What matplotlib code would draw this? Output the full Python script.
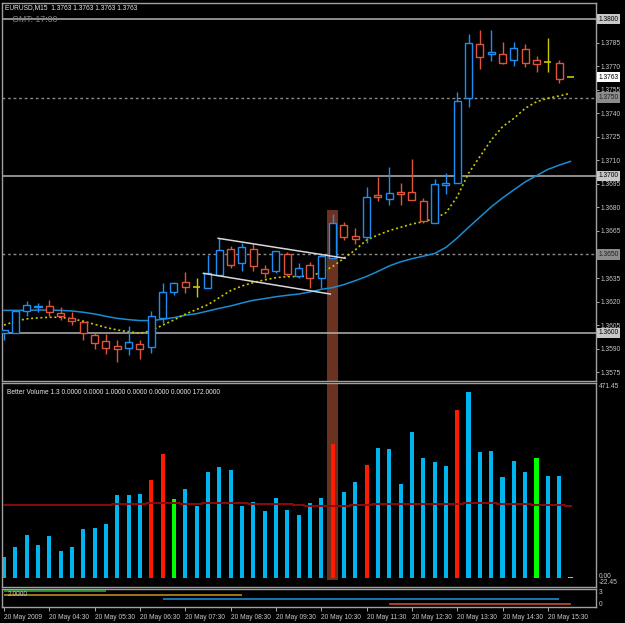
import matplotlib
matplotlib.use("Agg")
import matplotlib.pyplot as plt
from matplotlib.patches import Rectangle
import numpy as np

# ---------------- data ----------------
opens = [1.36000, 1.36002, 1.36138, 1.36163, 1.36170, 1.36125, 1.36096, 1.36070, 1.35987, 1.35949,
         1.35919, 1.35907, 1.35930, 1.35909, 1.36093, 1.36263, 1.36325, 1.36291, 1.36289, 1.36369,
         1.36537, 1.36444, 1.36535, 1.36406, 1.36393, 1.36505, 1.36365, 1.36431, 1.36350, 1.36476,
         1.36686, 1.36616, 1.36609, 1.36879, 1.36856, 1.36896, 1.36896, 1.36839, 1.36699, 1.36945,
         1.36953, 1.37495, 1.37839, 1.37775, 1.37775, 1.37737, 1.37807, 1.37737, 1.37724, 1.37718,
         1.37630]
highs = [1.36021, 1.36148, 1.36204, 1.36189, 1.36210, 1.36166, 1.36136, 1.36070, 1.35998, 1.35994,
         1.35955, 1.36045, 1.35955, 1.36138, 1.36316, 1.36327, 1.36389, 1.36348, 1.36495, 1.36603,
         1.36554, 1.36575, 1.36567, 1.36433, 1.36524, 1.36514, 1.36448, 1.36454, 1.36503, 1.36760,
         1.36709, 1.36667, 1.36928, 1.36992, 1.37059, 1.36953, 1.37108, 1.36858, 1.36979, 1.37017,
         1.37537, 1.37904, 1.37930, 1.37930, 1.37851, 1.37856, 1.37841, 1.37764, 1.37877, 1.37739,
         1.37630]
lows = [1.35955, 1.36000, 1.36108, 1.36136, 1.36108, 1.36083, 1.36051, 1.35955, 1.35896, 1.35866,
        1.35817, 1.35860, 1.35837, 1.35875, 1.36062, 1.36242, 1.36257, 1.36227, 1.36289, 1.36369,
        1.36416, 1.36395, 1.36395, 1.36352, 1.36384, 1.36365, 1.36348, 1.36285, 1.36285, 1.36476,
        1.36592, 1.36567, 1.36575, 1.36843, 1.36813, 1.36813, 1.36845, 1.36703, 1.36699, 1.36885,
        1.36953, 1.37442, 1.37682, 1.37735, 1.37713, 1.37703, 1.37696, 1.37665, 1.37665, 1.37590,
        1.37630]
closes = [1.36019, 1.36142, 1.36176, 1.36174, 1.36134, 1.36106, 1.36076, 1.35998, 1.35938, 1.35907,
          1.35898, 1.35941, 1.35896, 1.36108, 1.36259, 1.36316, 1.36291, 1.36291, 1.36380, 1.36527,
          1.36435, 1.36546, 1.36429, 1.36384, 1.36520, 1.36378, 1.36416, 1.36348, 1.36490, 1.36699,
          1.36609, 1.36597, 1.36864, 1.36864, 1.36890, 1.36885, 1.36845, 1.36713, 1.36947, 1.36953,
          1.37478, 1.37845, 1.37756, 1.37788, 1.37722, 1.37813, 1.37722, 1.37713, 1.37724, 1.37620,
          1.37630]

fast_ma = [1.36050, 1.36075, 1.36090, 1.36096, 1.36100, 1.36100, 1.36090, 1.36075, 1.36055, 1.36035,
           1.36019, 1.36008, 1.35998, 1.36015, 1.36050, 1.36083, 1.36120, 1.36150, 1.36180, 1.36225,
           1.36270, 1.36299, 1.36321, 1.36338, 1.36352, 1.36359, 1.36359, 1.36363, 1.36386, 1.36423,
           1.36476, 1.36529, 1.36592, 1.36624, 1.36652, 1.36673, 1.36694, 1.36709, 1.36728, 1.36766,
           1.36868, 1.37017, 1.37123, 1.37229, 1.37314, 1.37367, 1.37431, 1.37473, 1.37495, 1.37510,
           1.37527]
slow_ma = [1.36144, 1.36144, 1.36144, 1.36146, 1.36146, 1.36144, 1.36140, 1.36132, 1.36121, 1.36106,
           1.36093, 1.36085, 1.36079, 1.36079, 1.36087, 1.36098, 1.36113, 1.36123, 1.36140, 1.36157,
           1.36172, 1.36191, 1.36208, 1.36219, 1.36231, 1.36240, 1.36248, 1.36261, 1.36278, 1.36289,
           1.36308, 1.36333, 1.36360, 1.36392, 1.36427, 1.36453, 1.36473, 1.36489, 1.36506, 1.36545,
           1.36605, 1.36673, 1.36738, 1.36803, 1.36860, 1.36912, 1.36962, 1.37002, 1.37042, 1.37069,
           1.37093]

volumes = [51, 74, 104, 79, 101, 65, 74, 117, 120, 130, 200, 200, 203, 237, 300, 190, 216, 174, 257, 268,
           261, 174, 184, 161, 192, 163, 152, 182, 194, 324, 207, 232, 274, 314, 312, 228, 353, 290, 279, 270,
           406, 449, 305, 308, 244, 283, 257, 290, 246, 246, 2]
vol_kind = ['b'] * 51
for _i in (13, 14, 29, 32, 40):
    vol_kind[_i] = 'r'
for _i in (15, 47):
    vol_kind[_i] = 'g'
vol_kind[50] = 'y'
vol_avg = [176.8] * 10 + [178.5] * 3 + [181.6] * 3 + [178.5] * 2 + [180.1] * 4 + [178.5] * 4 + [175.3] + \
          [173.6] * 4 + [175.3] * 2 + [177.7] * 5 + [178.5] * 3 + [180.1] * 3 + [178.5] * 3 + [176.0] * 3 + [173.6]

time_labels = ["20 May 2009", "20 May 04:30", "20 May 05:30", "20 May 06:30", "20 May 07:30",
               "20 May 08:30", "20 May 09:30", "20 May 10:30", "20 May 11:30", "20 May 12:30",
               "20 May 13:30", "20 May 14:30", "20 May 15:30"]

solid_levels = [1.3800, 1.3700, 1.3600]
dashed_levels = [1.3750, 1.3650]
last_price = 1.3763

flag_upper = [(18.9, 1.36603), (30.1, 1.36476)]
flag_lower = [(17.6, 1.36380), (28.8, 1.36248)]
highlight_bar = 29
highlight_top = 1.36783

# third panel: (start bar, end bar, level, color)
sig_lines = [(0, 9, 3, '#1fb82a'), (0, 21, 2, '#c8961e'), (14, 49, 1, '#1e96e6'), (34, 50, 0, '#d2553a')]

# ---------------- styling helpers ----------------
W, H = 625, 623
FONT = 'Liberation Sans'
FS = 4.8
TXT = '#c8c8c8'
BG = '#000000'


def fx(px):
    return px / W


def fy(py):
    return 1 - py / H


fig = plt.figure(figsize=(W / 100, H / 100), dpi=100, facecolor=BG)
L, R = 2, 596
ax1 = fig.add_axes([fx(L), fy(381), fx(R) - fx(L), fy(3) - fy(381)], facecolor=BG)
ax2 = fig.add_axes([fx(L), fy(587), fx(R) - fx(L), fy(383) - fy(587)], facecolor=BG)
ax3 = fig.add_axes([fx(L), fy(607), fx(R) - fx(L), fy(589) - fy(607)], facecolor=BG)

n = len(closes)
x = np.arange(n)
xlim = (-0.177, 52.25)
for ax in (ax1, ax2, ax3):
    ax.set_xlim(*xlim)
    for s in ax.spines.values():
        s.set_color('#a0a0a0')
        s.set_linewidth(1)
    ax.tick_params(colors=TXT, labelsize=FS, length=2, width=0.6)
    ax.set_xticks([])

# ---------------- main price panel ----------------
ylo, yhi = 1.35694, 1.38102
ax1.set_ylim(ylo, yhi)

ax1.add_patch(Rectangle((highlight_bar - 0.5, ylo), 1.0, highlight_top - ylo,
                        facecolor='#6b3220', edgecolor='none', zorder=0.5))

for lv in solid_levels:
    ax1.axhline(lv, color='#b4b4b4', lw=1.1, zorder=1)
for lv in dashed_levels:
    ax1.axhline(lv, color='#8a8a8a', lw=1.0, ls=(0, (2, 2)), zorder=1)

ax1.plot(x, slow_ma, color='#1a8cd2', lw=1.1, zorder=2)
ax1.plot(x, fast_ma, color='#c8c800', lw=1.2, ls=(0, (1.2, 1.6)), zorder=2)

UP, DN, DJ = '#1e8cf0', '#e0553a', '#c8c800'
o = np.array(opens); c = np.array(closes); h = np.array(highs); lo = np.array(lows)
cols = [UP if cc > oo else (DN if cc < oo else DJ) for oo, cc in zip(o, c)]
bw = 0.62
ax1.vlines(x, lo, h, colors=cols, lw=1.0, zorder=3)
body = np.abs(c - o)
mask = body > 0
ax1.bar(x[mask], body[mask], bottom=np.minimum(o, c)[mask], width=bw,
        facecolor=BG, edgecolor=[cols[i] for i in x[mask]], linewidth=1.0, zorder=4)
for i in x[~mask]:
    ax1.hlines(o[i], i - bw / 2, i + bw / 2, colors=cols[i], lw=1.2, zorder=4)

for line in (flag_upper, flag_lower):
    ax1.plot([p[0] for p in line], [p[1] for p in line], color='#d8d8d8', lw=1.1, zorder=5)

ax1.yaxis.tick_right()
ticks = [1.3575 + 0.0015 * k for k in range(16)]
boxed = solid_levels + dashed_levels
ax1.set_yticks(ticks)
ax1.set_yticklabels(["" if any(abs(t - b) < 1e-6 for b in boxed) else f"{t:.4f}" for t in ticks],
                    fontfamily=FONT)
ax1.tick_params(axis='y', pad=1.5)


def price_box(val, fc, tc):
    ax1.text(1.004, val, f"{val:.4f}", transform=ax1.get_yaxis_transform(), ha='left', va='center',
             fontsize=FS, fontfamily=FONT, color=tc, zorder=10, clip_on=False,
             bbox=dict(boxstyle='square,pad=0.25', facecolor=fc, edgecolor='none'))


for lv in solid_levels:
    price_box(lv, '#c8c8c8', '#000000')
for lv in dashed_levels:
    price_box(lv, '#8c8c8c', '#202020')
price_box(last_price, '#ffffff', '#000000')

fig.text(fx(5), fy(8), "EURUSD,M15  1.3763 1.3763 1.3763 1.3763", fontsize=FS, fontfamily=FONT,
         color='#e8e8e8', va='center', ha='left')
fig.text(fx(12), fy(19), "GMT: 17:00", fontsize=6.3, fontfamily=FONT, color='#808080',
         va='center', ha='left')

# ---------------- volume panel ----------------
ax2.set_ylim(-22.45, 471.45)
ax2.axvspan(highlight_bar - 0.5, highlight_bar + 0.5, ymin=0.034, ymax=1, facecolor='#6b3220',
            edgecolor='none', zorder=0.5)
vcol = {'b': '#00b4f0', 'r': '#ff1a00', 'g': '#00ff00', 'y': '#c8c800'}
ax2.bar(x, volumes, width=0.36, color=[vcol[k] for k in vol_kind], zorder=2)
ax2.plot(x, vol_avg, color='#8c0a0a', lw=1.4, drawstyle='steps-mid', zorder=3)
ax2.set_yticks([])
ax2.text(5 / 594, 0.97, "Better Volume 1.3 0.0000 0.0000 1.0000 0.0000 0.0000 0.0000 172.0000",
         transform=ax2.transAxes, fontsize=FS, fontfamily=FONT, color='#e8e8e8', va='top', ha='left')
for val, py in (("471.45", 387), ("0.00", 576), ("-22.45", 582)):
    fig.text(fx(599), fy(py), val, fontsize=FS, fontfamily=FONT, color=TXT, va='center', ha='left')

# ---------------- signal panel ----------------
ax3.set_ylim(-0.76, 3.4)
for x0, x1, lv, col in sig_lines:
    ax3.hlines(lv, x0, x1, colors=col, lw=1.1)
ax3.set_yticks([])
ax3.text(6 / 594, 0.72, "2.0000", transform=ax3.transAxes, fontsize=FS, fontfamily=FONT,
         color=TXT, va='center', ha='left')
for val, py in (("3", 592.7), ("0", 604)):
    fig.text(fx(599), fy(py), val, fontsize=FS, fontfamily=FONT, color=TXT, va='center', ha='left')

ax3.set_xticks(np.arange(0, 49, 4))
ax3.set_xticklabels(time_labels, fontfamily=FONT, fontsize=FS, color=TXT, ha='left')
ax3.tick_params(axis='x', length=3, pad=2, colors=TXT)

fig.savefig("out.png", dpi=100, facecolor=BG)
